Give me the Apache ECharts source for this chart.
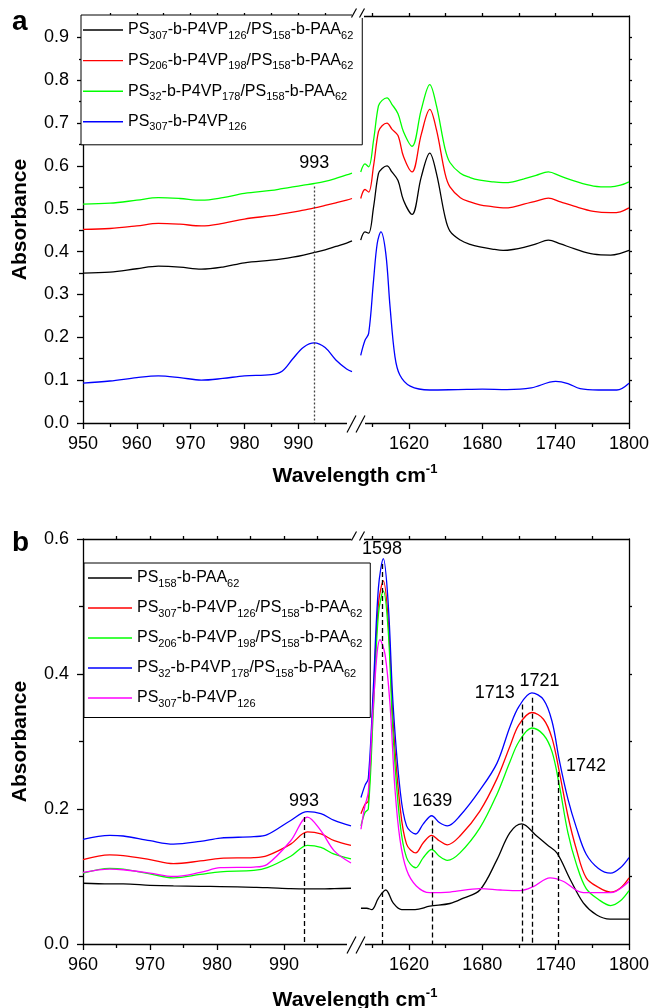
<!DOCTYPE html>
<html>
<head>
<meta charset="utf-8">
<title>FTIR absorbance, panels a and b</title>
<script src="https://cdn.jsdelivr.net/npm/echarts@6.0.0/dist/echarts.min.js"></script>
<style>
  html, body { margin: 0; padding: 0; background: #fff; }
  #chart { width: 652px; height: 1008px; }
</style>
</head>
<body>
<div id="chart"></div>
<script>
// ---------- panel a : 950-1000 and 1575-1800 cm-1 ----------
const aLeftX = [950, 955, 960, 964, 968, 972, 976, 980, 985, 987, 989, 991, 993, 995, 997, 999, 1000];
const aBlackL = [0.350, 0.352, 0.360, 0.366, 0.364, 0.359, 0.364, 0.374, 0.380, 0.383, 0.387, 0.392, 0.398, 0.404, 0.412, 0.420, 0.425];
const aRedL   = [0.452, 0.454, 0.460, 0.466, 0.464, 0.460, 0.466, 0.476, 0.484, 0.488, 0.492, 0.497, 0.502, 0.508, 0.514, 0.520, 0.524];
const aGreenL = [0.511, 0.513, 0.520, 0.526, 0.524, 0.520, 0.526, 0.536, 0.543, 0.547, 0.551, 0.555, 0.559, 0.564, 0.571, 0.579, 0.583];
const aBlueL  = [0.093, 0.098, 0.106, 0.110, 0.106, 0.100, 0.104, 0.110, 0.113, 0.121, 0.150, 0.177, 0.187, 0.176, 0.147, 0.126, 0.120];

const aRightX = [1580.5, 1584, 1587, 1591, 1595, 1598, 1602, 1606, 1611, 1615.5, 1622.5, 1630, 1637, 1642.5, 1649.5,
                 1653.5, 1662, 1670, 1678, 1688, 1697, 1705, 1714, 1724, 1734, 1744, 1755, 1771, 1785, 1793, 1800];
const aBlackR = [0.427, 0.446, 0.443, 0.504, 0.582, 0.594, 0.600, 0.586, 0.566, 0.520, 0.487, 0.574, 0.630, 0.582, 0.481,
                 0.448, 0.427, 0.417, 0.411, 0.406, 0.403, 0.405, 0.410, 0.418, 0.427, 0.418, 0.407, 0.394, 0.392, 0.396, 0.403];
const aRedR   = [0.524, 0.545, 0.539, 0.600, 0.680, 0.694, 0.700, 0.686, 0.671, 0.622, 0.586, 0.673, 0.732, 0.684, 0.582,
                 0.551, 0.526, 0.516, 0.509, 0.505, 0.502, 0.504, 0.511, 0.518, 0.525, 0.516, 0.506, 0.494, 0.491, 0.493, 0.502];
const aGreenR = [0.586, 0.605, 0.598, 0.660, 0.740, 0.753, 0.759, 0.744, 0.722, 0.680, 0.646, 0.731, 0.790, 0.740, 0.640,
                 0.608, 0.583, 0.573, 0.567, 0.563, 0.561, 0.563, 0.570, 0.578, 0.586, 0.576, 0.565, 0.553, 0.551, 0.555, 0.563];
const aBlueRX = [1580.5, 1584, 1587, 1591, 1594, 1597, 1601, 1604.5, 1608.5, 1612.5, 1621, 1637, 1660, 1680, 1700, 1720,
                 1740, 1750, 1760, 1775, 1790, 1800];
const aBlueR  = [0.158, 0.193, 0.209, 0.333, 0.419, 0.446, 0.396, 0.271, 0.155, 0.112, 0.086, 0.077, 0.078, 0.079, 0.078, 0.082,
                 0.097, 0.092, 0.080, 0.077, 0.077, 0.093];

const aMarkX = [993];
const aMarkTop = [0.552];

// ---------- panel b : 960-1000 and 1575-1800 cm-1 ----------
const bLeftX = [960, 964, 966, 970, 973.5, 977.5, 980.5, 985.5, 987.5, 991, 993.5, 995.5, 997.5, 1000];
const bBlueL    = [0.155, 0.161, 0.160, 0.153, 0.148, 0.152, 0.157, 0.159, 0.162, 0.183, 0.196, 0.193, 0.183, 0.175];
const bRedL     = [0.125, 0.132, 0.131, 0.125, 0.119, 0.123, 0.127, 0.128, 0.131, 0.148, 0.166, 0.163, 0.153, 0.146];
const bGreenL   = [0.105, 0.112, 0.111, 0.104, 0.098, 0.103, 0.107, 0.109, 0.113, 0.130, 0.146, 0.143, 0.133, 0.126];
const bMagentaL = [0.106, 0.111, 0.110, 0.105, 0.100, 0.106, 0.113, 0.114, 0.118, 0.153, 0.188, 0.168, 0.138, 0.120];
const bBlackL   = [0.090, 0.089, 0.089, 0.087, 0.086, 0.0855, 0.085, 0.084, 0.0835, 0.082, 0.0816, 0.0816, 0.082, 0.0826];

const bRightX = [1580.7, 1584, 1586.7, 1590.8, 1595, 1599, 1603, 1607, 1612.6, 1618, 1625.5, 1631.7, 1638.6, 1644.8, 1651.4,
                 1661.7, 1678, 1692, 1702.6, 1710, 1720.5, 1730, 1737, 1743, 1750, 1757, 1765, 1775, 1785, 1793, 1800];
const bBlueR  = [0.217, 0.235, 0.245, 0.379, 0.528, 0.571, 0.504, 0.354, 0.230, 0.175, 0.163, 0.178, 0.190, 0.180, 0.175,
                 0.190, 0.228, 0.268, 0.322, 0.352, 0.372, 0.362, 0.330, 0.272, 0.215, 0.172, 0.133, 0.112, 0.105, 0.113, 0.128];
const bRedR   = [0.193, 0.207, 0.212, 0.364, 0.504, 0.538, 0.479, 0.329, 0.205, 0.148, 0.135, 0.150, 0.161, 0.153, 0.147,
                 0.160, 0.197, 0.245, 0.293, 0.325, 0.343, 0.333, 0.305, 0.255, 0.190, 0.140, 0.098, 0.084, 0.077, 0.083, 0.098];
const bGreenR = [0.175, 0.195, 0.200, 0.344, 0.489, 0.523, 0.464, 0.309, 0.180, 0.128, 0.113, 0.128, 0.140, 0.130, 0.124,
                 0.135, 0.172, 0.222, 0.270, 0.300, 0.320, 0.310, 0.285, 0.235, 0.165, 0.118, 0.082, 0.066, 0.057, 0.064, 0.079];
const bMagentaRX = [1580.7, 1584, 1586.7, 1590.8, 1596.3, 1600.4, 1604.5, 1608.5, 1612.6, 1618, 1626, 1637, 1653.5, 1678,
                    1695, 1710.8, 1721.7, 1735.4, 1746, 1762.6, 1785, 1800];
const bMagentaR  = [0.170, 0.205, 0.225, 0.354, 0.451, 0.429, 0.354, 0.230, 0.155, 0.110, 0.086, 0.076, 0.077, 0.082,
                    0.080, 0.079, 0.085, 0.098, 0.093, 0.076, 0.076, 0.093];
const bBlackRX = [1580.7, 1585.4, 1589.5, 1595, 1601, 1607, 1614, 1625, 1637, 1653.5, 1664.5, 1678, 1692, 1702.6, 1712.2,
                  1724.5, 1733, 1741, 1751.8, 1762.6, 1773.6, 1784.5, 1800];
const bBlackR  = [0.053, 0.053, 0.051, 0.068, 0.080, 0.061, 0.051, 0.051, 0.056, 0.060, 0.068, 0.080, 0.125, 0.165, 0.178,
                  0.160, 0.147, 0.135, 0.096, 0.061, 0.043, 0.037, 0.037];

const bMarkLeftX = [993];
const bMarkLeftTop = [0.188];
const bMarkRightX = [1598, 1639, 1713, 1721, 1742];
const bMarkRightTop = [0.563, 0.183, 0.355, 0.365, 0.255];

// legend texts, _{..} is a subscript
const aNames = ['a1', 'a2', 'a3', 'a4'];
const aLabels = ['PS_{307}-b-P4VP_{126}/PS_{158}-b-PAA_{62}', 'PS_{206}-b-P4VP_{198}/PS_{158}-b-PAA_{62}',
                 'PS_{32}-b-P4VP_{178}/PS_{158}-b-PAA_{62}', 'PS_{307}-b-P4VP_{126}'];
const bNames = ['b1', 'b2', 'b3', 'b4', 'b5'];
const bLabels = ['PS_{158}-b-PAA_{62}', 'PS_{307}-b-P4VP_{126}/PS_{158}-b-PAA_{62}', 'PS_{206}-b-P4VP_{198}/PS_{158}-b-PAA_{62}',
                 'PS_{32}-b-P4VP_{178}/PS_{158}-b-PAA_{62}', 'PS_{307}-b-P4VP_{126}'];

// axis ticks
const aLeftMajor = [950, 960, 970, 980, 990];
const aLeftMinor = [955, 965, 975, 985, 995];
const aLeftTop = [955, 960, 965, 970, 975, 980, 985, 990, 995];
const bLeftMajor = [960, 970, 980, 990];
const bLeftMinor = [965, 975, 985, 995];
const bLeftTop = [965, 970, 975, 980, 985, 990, 995];
const rightMajor = [1620, 1680, 1740, 1800];
const rightMinor = [1590, 1650, 1710, 1770];
const rightTop = [1590, 1620, 1650, 1680, 1710, 1740, 1770];
const aYMajor = [0, 0.1, 0.2, 0.3, 0.4, 0.5, 0.6, 0.7, 0.8, 0.9];
const aYMinor = [0.05, 0.15, 0.25, 0.35, 0.45, 0.55, 0.65, 0.75, 0.85];
const aYRight = [0.05, 0.1, 0.15, 0.2, 0.25, 0.3, 0.35, 0.4, 0.45, 0.5, 0.55, 0.6, 0.65, 0.7, 0.75, 0.8, 0.85, 0.9];
const bYMajor = [0, 0.2, 0.4, 0.6];
const bYMinor = [0.1, 0.3, 0.5];
const bYRight = [0.1, 0.2, 0.3, 0.4, 0.5];

const FONT = '"Liberation Sans", Arial, Helvetica, sans-serif';
const BLACK = '#000000', RED = '#ff0000', GREEN = '#00ff00', BLUE = '#0000ff', MAGENTA = '#ff00ff';
const axisPen = { color: '#000', width: 1.3 };

function pairs(xs, ys) {
    return xs.map((x, i) => [x, ys[i]]);
}

function toRich(s) {
    return ('{n|' + s.replace(/_\{(\d+)\}/g, '}{s|$1}{n|') + '}').replace(/\{n\|\}/g, '');
}

const legendRich = {
    n: { fontSize: 16, lineHeight: 22, fontFamily: FONT, color: '#000' },
    s: { fontSize: 11, lineHeight: 10, verticalAlign: 'bottom', fontFamily: FONT, color: '#000' }
};

function xAxes(grid, min, max, major, minor, top) {
    return [
        { type: 'value', gridIndex: grid, position: 'bottom', min, max,
          axisLine: { show: true, lineStyle: axisPen },
          axisTick: { show: true, length: 6, customValues: major, lineStyle: axisPen },
          axisLabel: { show: true, customValues: major, margin: 12, fontSize: 18, color: '#000', fontFamily: FONT,
                       formatter: v => String(v) },
          splitLine: { show: false } },
        { type: 'value', gridIndex: grid, position: 'bottom', min, max,
          axisLine: { show: false },
          axisTick: { show: true, length: 4, customValues: minor, lineStyle: axisPen },
          axisLabel: { show: false }, splitLine: { show: false } },
        { type: 'value', gridIndex: grid, position: 'top', min, max,
          axisLine: { show: true, lineStyle: axisPen },
          axisTick: { show: true, length: 3, customValues: top, lineStyle: axisPen },
          axisLabel: { show: false }, splitLine: { show: false } }
    ];
}

function yLeft(grid, max, major, minor) {
    return [
        { type: 'value', gridIndex: grid, position: 'left', min: 0, max,
          name: 'Absorbance', nameLocation: 'middle', nameGap: 52,
          nameTextStyle: { fontSize: 21, fontWeight: 'bold', fontFamily: FONT, color: '#000' },
          axisLine: { show: true, lineStyle: axisPen },
          axisTick: { show: true, length: 6, customValues: major, lineStyle: axisPen },
          axisLabel: { show: true, customValues: major, margin: 14, fontSize: 18, color: '#000', fontFamily: FONT,
                       formatter: v => v.toFixed(1) },
          splitLine: { show: false } },
        { type: 'value', gridIndex: grid, position: 'left', min: 0, max,
          axisLine: { show: false },
          axisTick: { show: true, length: 4, customValues: minor, lineStyle: axisPen },
          axisLabel: { show: false }, splitLine: { show: false } }
    ];
}

function yRight(grid, max, ticks) {
    return { type: 'value', gridIndex: grid, position: 'right', min: 0, max,
             axisLine: { show: true, lineStyle: axisPen },
             axisTick: { show: true, length: 3, customValues: ticks, lineStyle: axisPen },
             axisLabel: { show: false }, splitLine: { show: false } };
}

const yIdx = [0, 2, 3, 5];

function curve(name, grid, xs, ys, color, extra) {
    return Object.assign({
        type: 'line', name, xAxisIndex: grid * 3, yAxisIndex: yIdx[grid],
        data: pairs(xs, ys), symbol: 'none', smooth: 0.35,
        lineStyle: { color, width: 1.3 }, itemStyle: { color }, z: 3
    }, extra || {});
}

// label shift per annotation (offset from the top of its line)
const labelShift = { 993: [0, -7], 1598: [0, -6], 1639: [0, -10], 1713: [-28, -2], 1721: [7, -8], 1742: [28, 3] };

function marks(xs, tops, type, color, shift) {
    return {
        symbol: ['none', 'none'], silent: true, animation: false,
        lineStyle: { color, type, width: 1.3 },
        label: { show: true, position: 'start', distance: 0, fontSize: 18, color: '#000', fontFamily: FONT },
        data: xs.map((x, i) => [
            { coord: [x, tops[i]], label: { formatter: String(x), offset: shift ? (labelShift[x] || [0, 0]) : [0, -14] } },
            { coord: [x, 0] }
        ])
    };
}

function legend(names, labels, left, top, itemWidth, itemGap, padding) {
    const map = {};
    names.forEach((n, i) => { map[n] = toRich(labels[i]); });
    return {
        data: names.map(n => ({ name: n, icon: 'rect' })), orient: 'vertical', left, top, itemWidth, itemHeight: 1.4,
        itemGap, padding, selectedMode: false, borderColor: '#000', borderWidth: 1, backgroundColor: '#fff',
        borderRadius: 0, formatter: n => map[n], textStyle: { rich: legendRich }, z: 20
    };
}

function breakMarks(y, big) {
    const h = big ? 8.5 : 4.5, w = big ? 4.5 : 2.5, dy = big ? 1 : -3;
    const x1 = big ? 351.5 : 354, x2 = big ? 360.5 : 362;
    return [
        { type: 'rect', z: 100, shape: { x: big ? 347 : 352, y: y - 2, width: big ? 18 : 12, height: big ? 5 : 4 },
          style: { fill: '#fff' } },
        { type: 'line', z: 101, shape: { x1: x1 - w, y1: y + dy + h, x2: x1 + w, y2: y + dy - h },
          style: { stroke: '#000', lineWidth: 1.2 } },
        { type: 'line', z: 101, shape: { x1: x2 - w, y1: y + dy + h, x2: x2 + w, y2: y + dy - h },
          style: { stroke: '#000', lineWidth: 1.2 } }
    ];
}

const titleRich = {
    b: { fontSize: 21, fontWeight: 'bold', fontFamily: FONT, color: '#000', lineHeight: 26 },
    u: { fontSize: 13, fontWeight: 'bold', fontFamily: FONT, color: '#000', lineHeight: 14, verticalAlign: 'top' }
};

const chart = echarts.init(document.getElementById('chart'), null, { renderer: 'canvas' });

const option = {
    animation: false,
    backgroundColor: '#fff',
    grid: [
        { left: 83, top: 16, width: 269, height: 407, outerBoundsMode: 'none' },
        { left: 354, top: 16, width: 275, height: 407, outerBoundsMode: 'none' },
        { left: 83, top: 539, width: 268, height: 405, outerBoundsMode: 'none' },
        { left: 354, top: 539, width: 275, height: 405, outerBoundsMode: 'none' }
    ],
    xAxis: [].concat(
        xAxes(0, 950, 1000, aLeftMajor, aLeftMinor, aLeftTop),
        xAxes(1, 1575, 1800, rightMajor, rightMinor, rightTop),
        xAxes(2, 960, 1000, bLeftMajor, bLeftMinor, bLeftTop),
        xAxes(3, 1575, 1800, rightMajor, rightMinor, rightTop)
    ),
    yAxis: [].concat(
        yLeft(0, 0.95, aYMajor, aYMinor), [yRight(1, 0.95, aYRight)],
        yLeft(2, 0.6, bYMajor, bYMinor), [yRight(3, 0.6, bYRight)]
    ),
    legend: [
        legend(aNames, aLabels, 81, 15, 40, 11.6, [7, 9, 12, 2]),
        legend(bNames, bLabels, 84, 563, 44, 11, [7, 8, 8.5, 4])
    ],
    series: [
        curve('a1', 0, aLeftX, aBlackL, BLACK),
        curve('a2', 0, aLeftX, aRedL, RED),
        curve('a3', 0, aLeftX, aGreenL, GREEN, { markLine: marks(aMarkX, aMarkTop, [2, 2], '#444', false) }),
        curve('a4', 0, aLeftX, aBlueL, BLUE),
        curve('a1', 1, aRightX, aBlackR, BLACK),
        curve('a2', 1, aRightX, aRedR, RED),
        curve('a3', 1, aRightX, aGreenR, GREEN),
        curve('a4', 1, aBlueRX, aBlueR, BLUE),

        curve('b1', 2, bLeftX, bBlackL, BLACK, { markLine: marks(bMarkLeftX, bMarkLeftTop, [5, 3], '#000', true) }),
        curve('b2', 2, bLeftX, bRedL, RED),
        curve('b3', 2, bLeftX, bGreenL, GREEN),
        curve('b4', 2, bLeftX, bBlueL, BLUE),
        curve('b5', 2, bLeftX, bMagentaL, MAGENTA),
        curve('b1', 3, bBlackRX, bBlackR, BLACK, { markLine: marks(bMarkRightX, bMarkRightTop, [5, 3], '#000', true) }),
        curve('b2', 3, bRightX, bRedR, RED),
        curve('b3', 3, bRightX, bGreenR, GREEN),
        curve('b4', 3, bRightX, bBlueR, BLUE),
        curve('b5', 3, bMagentaRX, bMagentaR, MAGENTA)
    ],
    graphic: {
        elements: [].concat(
            breakMarks(423, true), breakMarks(16, false),
            breakMarks(944, true), breakMarks(539, false),
            [
                { type: 'text', z: 100, style: { x: 12, y: 22, text: 'a', fontSize: 28, fontWeight: 'bold',
                  fontFamily: FONT, fill: '#000', verticalAlign: 'middle' } },
                { type: 'text', z: 100, style: { x: 12, y: 543, text: 'b', fontSize: 28, fontWeight: 'bold',
                  fontFamily: FONT, fill: '#000', verticalAlign: 'middle' } },
                { type: 'text', z: 100, style: { x: 355, y: 476, text: '{b|Wavelength cm}{u|-1}', rich: titleRich,
                  align: 'center', verticalAlign: 'middle' } },
                { type: 'text', z: 100, style: { x: 355, y: 1000, text: '{b|Wavelength cm}{u|-1}', rich: titleRich,
                  align: 'center', verticalAlign: 'middle' } }
            ]
        )
    }
};

chart.setOption(option);
</script>
</body>
</html>
